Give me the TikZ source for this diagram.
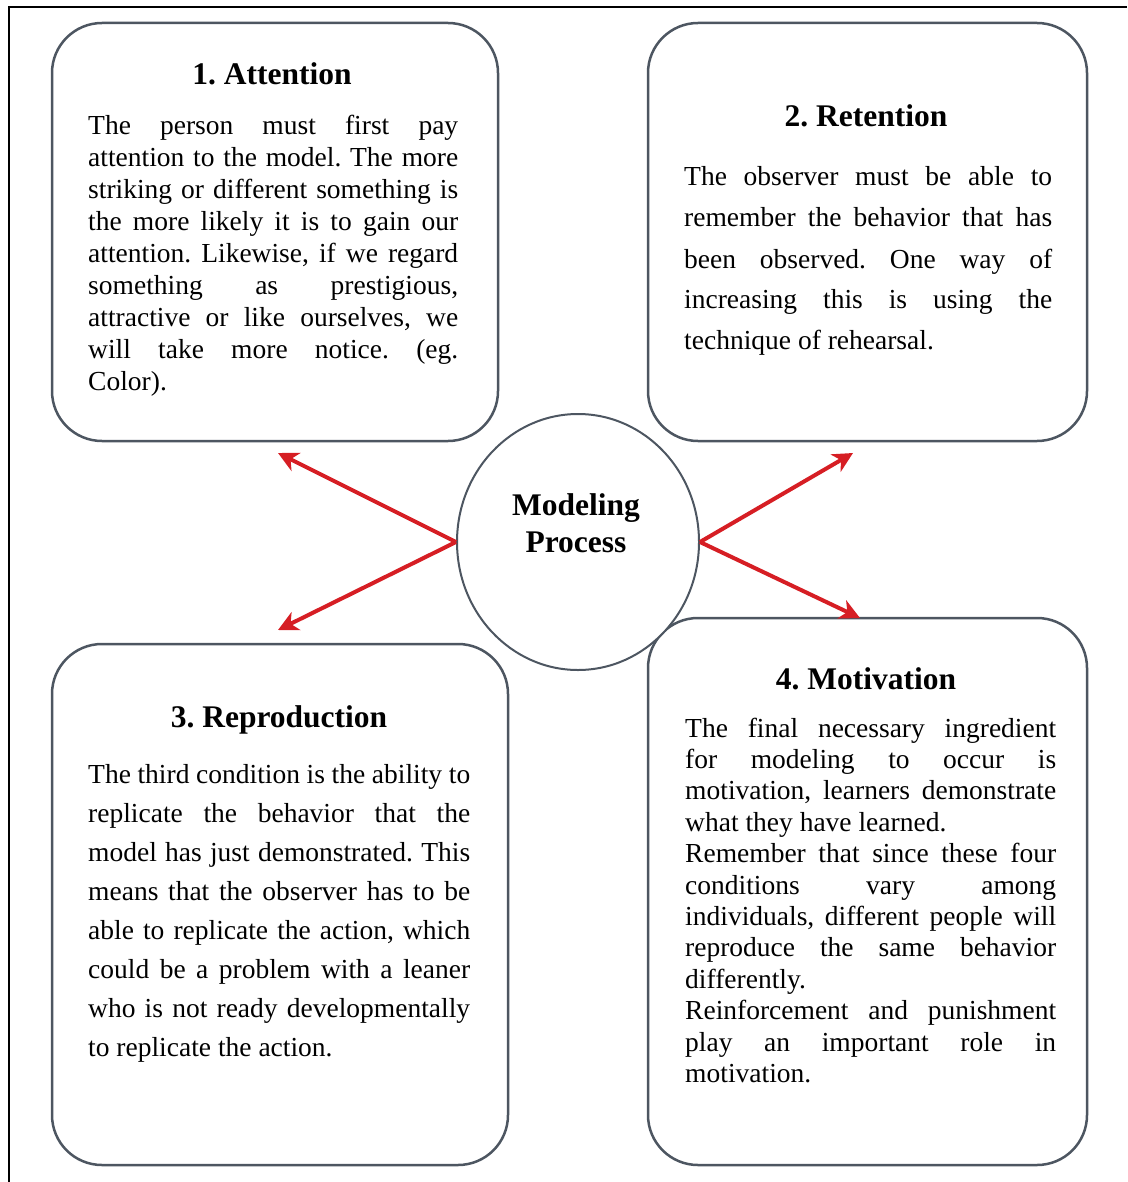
\documentclass[tikz,border=0pt]{standalone}
\usepackage{fontspec}
\setmainfont{Liberation Serif}
\usetikzlibrary{arrows.meta,shapes.geometric}
\definecolor{boxline}{RGB}{77,86,97}
\definecolor{arrowred}{RGB}{214,30,36}
% body text: fixed size, given leading
\newcommand{\bodytext}[1]{\fontsize{27.5}{#1}\selectfont\tolerance=10000\hbadness=10000\hyphenpenalty=10000\relax}
\begin{document}
\frenchspacing
\begin{tikzpicture}[x=1pt,y=1pt,
  stage/.style={draw=boxline, line width=2.5pt, rounded corners=50pt, fill=white, inner sep=0pt},
  heading/.style={anchor=base, inner sep=0pt, font=\bfseries\fontsize{31.5}{36}\selectfont},
  body/.style={anchor=base west, inner sep=0pt},
  link/.style={draw=arrowred, line width=4pt, -{Stealth[length=20pt,width=20pt,inset=6pt]}}
]
\useasboundingbox (0,0) rectangle (1127,-1182);
% outer frame
\draw[line width=1.5pt] (9,-1182) -- (9,-7) -- (1127,-7);

% the four stages
\node[stage, minimum width=446pt, minimum height=418pt] (att) at (275,-232) {};
\node[stage, minimum width=439pt, minimum height=418pt] (ret) at (867.5,-232) {};
\node[stage, minimum width=456pt, minimum height=521pt] (rep) at (280,-904.5) {};
\node[stage, minimum width=439pt, minimum height=547pt] (mot) at (867.5,-891.5) {};

% centre
\node[ellipse, draw=boxline, line width=2pt, fill=white, inner sep=0pt,
      minimum width=242pt, minimum height=256pt] (mp) at (578,-542) {};
\node[anchor=base, inner sep=0pt] (mptext) at (576,-515)
  {\begin{minipage}[t]{220pt}\centering\bfseries\fontsize{31.5}{37}\selectfont Modeling\\Process\end{minipage}};

% headings
\node[heading] (atth) at (272,-85) {1. Attention};
\node[heading] (reth) at (866,-127) {2. Retention};
\node[heading] (reph) at (279,-727) {3. Reproduction};
\node[heading] (moth) at (866,-689) {4. Motivation};

% descriptions
\node[body] (attb) at (88,-135) {\begin{minipage}[t]{370pt}\bodytext{32}%
The person must first pay\linebreak
attention to the model. The more\linebreak
striking or different something is\linebreak
the more likely it is to gain our\linebreak
attention. Likewise, if we regard\linebreak
something as prestigious,\linebreak
attractive or like ourselves, we\linebreak
will take more notice. (eg.\linebreak
Color).
\end{minipage}};

\node[body] (retb) at (684,-186) {\begin{minipage}[t]{368pt}\bodytext{41}%
The observer must be able to\linebreak
remember the behavior that has\linebreak
been observed. One way of\linebreak
increasing this is using the\linebreak
technique of rehearsal.
\end{minipage}};

\node[body] (repb) at (88,-783) {\begin{minipage}[t]{382pt}\bodytext{39}%
The third condition is the ability to\linebreak
replicate the behavior that the\linebreak
model has just demonstrated. This\linebreak
means that the observer has to be\linebreak
able to replicate the action, which\linebreak
could be a problem with a leaner\linebreak
who is not ready developmentally\linebreak
to replicate the action.
\end{minipage}};

\node[body] (motb) at (685,-737) {\begin{minipage}[t]{371pt}\bodytext{31.4}%
The final necessary ingredient\linebreak
for modeling to occur is\linebreak
motivation, learners demonstrate\linebreak
what they have learned.\par
Remember that since these four\linebreak
conditions vary among\linebreak
individuals, different people will\linebreak
reproduce the same behavior\linebreak
differently.\par
Reinforcement and punishment\linebreak
play an important role in\linebreak
motivation.
\end{minipage}};

% arrows from the centre
\coordinate (t1) at (278,-453);
\coordinate (t2) at (853,-453);
\coordinate (t3) at (278,-630);
\coordinate (t4) at (860,-618);
\draw[link] (mp.west) -- (t1);
\draw[link] (mp.west) -- (t3);
\draw[link] (mp.east) -- (t2);
\draw[link] (mp.east) -- (t4);
\end{tikzpicture}
\end{document}
